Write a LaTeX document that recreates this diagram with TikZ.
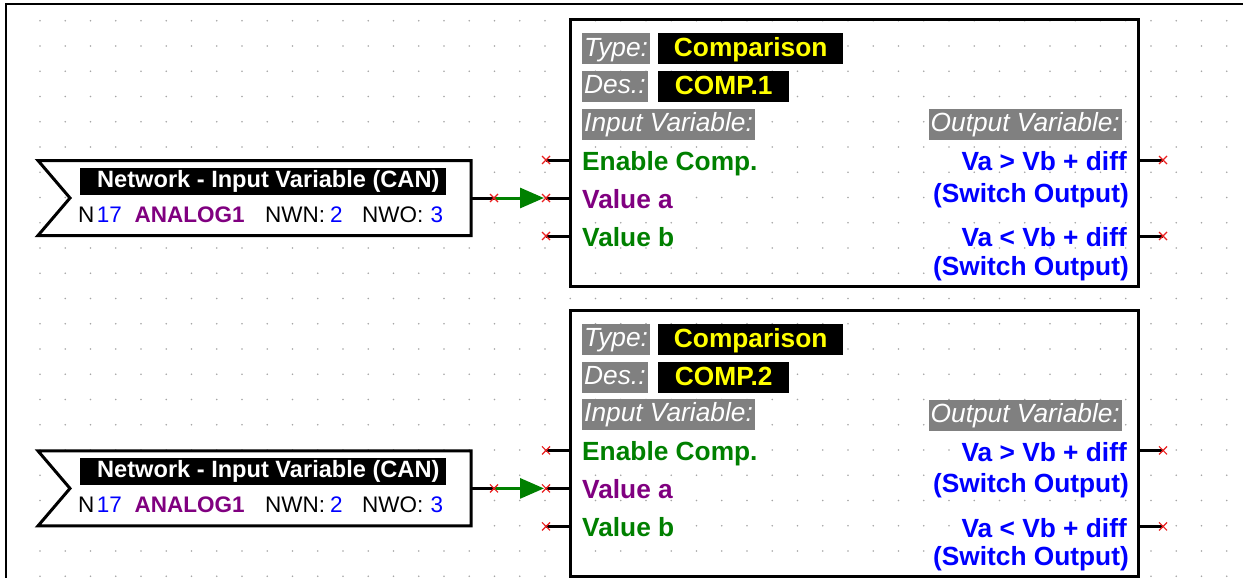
\documentclass[tikz,border=0pt]{standalone}
\usepackage{fontspec}
\setmainfont{Liberation Sans}
\usetikzlibrary{arrows.meta}
\definecolor{cgreen}{RGB}{0,128,0}
\definecolor{cpurple}{RGB}{128,0,128}
\definecolor{cblue}{RGB}{0,0,255}
\definecolor{cyellow}{RGB}{255,255,0}
\definecolor{lgrey}{RGB}{128,128,128}
\definecolor{dotgrey}{RGB}{165,165,165}
\definecolor{xred}{RGB}{235,30,30}
\tikzset{
  blockframe/.style={draw=black, line width=3pt, minimum width=568.5pt, minimum height=266pt, inner sep=0pt, outer sep=0pt},
  lbl/.style={fill=lgrey, text=white, font=\fontsize{26.3}{30}\selectfont\itshape, inner ysep=0pt, inner xsep=2pt, text height=22.7pt, text depth=8.3pt, anchor=north west},
  valbox/.style={fill=black, text=cyellow, font=\fontsize{26.3}{30}\selectfont\bfseries, inner ysep=0pt, inner xsep=0pt, text height=23.5pt, text depth=7.5pt, anchor=north west},
  port/.style={font=\fontsize{26.3}{30}\selectfont\bfseries, inner sep=0pt, fill=white},
  stub/.style={line width=3pt, draw=black},
  flow/.style={line width=3pt, draw=cgreen, -{Triangle[length=24pt, width=20pt]}},
  nodeframe/.style={draw=black, fill=white, line width=3pt, line join=miter},
  hdrbar/.style={fill=black, minimum width=366.7pt, minimum height=26.7pt, inner sep=0pt, anchor=north west},
  hdrtext/.style={text=white, font=\fontsize{23.6}{27}\selectfont\bfseries, inner sep=0pt, anchor=base west},
  rowtext/.style={font=\fontsize{22.5}{26}\selectfont, inner sep=0pt, anchor=base west},
  redx/.pic={\draw[xred, line width=1.2pt] (-4,-4) -- (4,4) (-4,4) -- (4,-4);}
}
\newcommand\CompBlock[3]{%
  \node[blockframe, anchor=north west] (#1box) at (570,#2) {};
  \node[lbl] (#1typel) at (582,#2+13.3) {Type:};
  \node[valbox, minimum width=185pt] (#1type) at (658,#2+13) {Comparison};
  \node[lbl] (#1desl) at (582,#2+51) {Des.:};
  \node[valbox, minimum width=131pt] (#1des) at (658,#2+51) {#3};
  \node[lbl] (#1inl) at (582,#2+88.5) {Input Variable:};
  \node[lbl, anchor=north east] (#1outl) at (1122,#2+89) {Output Variable:};
  \node[port, text=cgreen, anchor=base west] (#1pE) at (582,#2+150) {Enable Comp.};
  \node[port, text=cpurple, anchor=base west] (#1pA) at (582,#2+188) {Value a};
  \node[port, text=cgreen, anchor=base west] (#1pB) at (582,#2+226) {Value b};
  \node[port, text=cblue, anchor=base east] (#1oA) at (1127,#2+150.7) {Va > Vb + diff};
  \node[port, text=cblue, anchor=base east] (#1oAs) at (1129,#2+182.5) {(Switch Output)};
  \node[port, text=cblue, anchor=base east] (#1oB) at (1127,#2+226.7) {Va < Vb + diff};
  \node[port, text=cblue, anchor=base east] (#1oBs) at (1129,#2+255) {(Switch Output)};
  \coordinate (#1inE) at (546,#2+140);
  \coordinate (#1inA) at (546,#2+178);
  \coordinate (#1inB) at (546,#2+216);
  \coordinate (#1out1) at (1163,#2+140);
  \coordinate (#1out2) at (1163,#2+216);
  \draw[stub] (#1inE) -- (#1inE -| #1box.west);
  \draw[stub] (#1inA) -- (#1inA -| #1box.west);
  \draw[stub] (#1inB) -- (#1inB -| #1box.west);
  \draw[stub] (#1out1 -| #1box.east) -- (#1out1);
  \draw[stub] (#1out2 -| #1box.east) -- (#1out2);
}
\newcommand\InBlock[2]{%
  \filldraw[nodeframe] (38,#2) -- (471,#2) -- (471,#2+75) -- (38,#2+75) -- (70,#2+37.5) -- cycle;
  \coordinate (#1out) at (471,#2+37.5);
  \coordinate (#1mid) at (494,#2+37.5);
  \node[hdrbar] (#1hdr) at (79.3,#2+7.3) {};
  \node[hdrtext] (#1title) at (97,#2+27) {Network - Input Variable (CAN)};
  \node[rowtext] (#1n) at (78,#2+61.5) {N};
  \node[rowtext, text=cblue] (#1num) at (96.6,#2+61.5) {17};
  \node[rowtext, text=cpurple, font=\fontsize{22.5}{26}\selectfont\bfseries] (#1name) at (134.5,#2+61.5) {ANALOG1};
  \node[rowtext] (#1nwn) at (265,#2+61.5) {NWN:};
  \node[rowtext, text=cblue] (#1nwnv) at (330,#2+61.5) {2};
  \node[rowtext] (#1nwo) at (362,#2+61.5) {NWO:};
  \node[rowtext, text=cblue] (#1nwov) at (430.5,#2+61.5) {3};
}
\begin{document}
\begin{tikzpicture}[x=1pt, y=-1pt]
\useasboundingbox (0,0) rectangle (1243,578);
\fill[white] (0,0) rectangle (1243,578);
% dot grid
\foreach \i in {0,...,47} {
  \foreach \j in {0,...,22} {
    \fill[dotgrey] ({40+25.25*\i},{20.7+25.25*\j}) circle (0.9pt);
  }
}
% page frame
\draw[line width=2.5pt] (6,579) -- (6,4) -- (1244,4);
% blocks
\CompBlock{a}{20}{COMP.1}
\CompBlock{b}{310.4}{COMP.2}
\InBlock{n}{160.5}
\InBlock{m}{450.9}
% connections
\draw[stub] (nout) -- (nmid);
\draw[flow] (nmid) -- ([xshift=-2pt]ainA);
\draw[stub] (mout) -- (mmid);
\draw[flow] (mmid) -- ([xshift=-2pt]binA);
% red end marks
\foreach \p in {nmid, mmid, ainE, ainA, ainB, aout1, aout2, binE, binA, binB, bout1, bout2} {
  \pic at (\p) {redx};
}
\end{tikzpicture}
\end{document}
